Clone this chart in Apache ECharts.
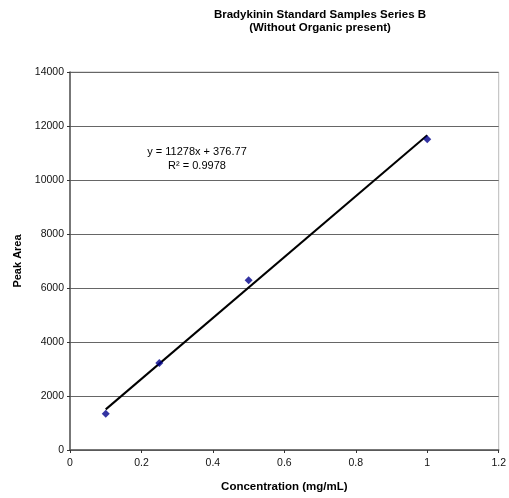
<!DOCTYPE html>
<html><head><meta charset="utf-8">
<script src="https://cdn.jsdelivr.net/npm/echarts@6/dist/echarts.min.js"></script>
<style>html,body{margin:0;padding:0;background:#fff;overflow:hidden}#c{width:509px;height:498px}</style>
</head><body><div id="c"></div>
<script>
const concentration = [0.1, 0.25, 0.5, 1.0];
const peakArea = [1340, 3220, 6290, 11510];
const trendX = [0.1, 1.0];
const trendY = [1504.57, 11654.77];
const xTicks = [0, 0.2, 0.4, 0.6, 0.8, 1, 1.2];
const yTicks = [0, 2000, 4000, 6000, 8000, 10000, 12000, 14000];
const F = '"Liberation Sans", Arial, sans-serif';
const chart = echarts.init(document.getElementById('c'), null, {renderer:'canvas'});
chart.setOption({
  animation:false,
  backgroundColor:'#fff',
  graphic:[
    {type:'text', style:{text:'Bradykinin Standard Samples Series B', x:320, y:15, textAlign:'center', textVerticalAlign:'middle', font:'bold 11.5px '+F, fill:'#000'}},
    {type:'text', style:{text:'(Without Organic present)', x:320, y:28, textAlign:'center', textVerticalAlign:'middle', font:'bold 11.5px '+F, fill:'#000'}},
    {type:'text', style:{text:'y = 11278x + 376.77', x:197, y:152, textAlign:'center', textVerticalAlign:'middle', font:'11px '+F, fill:'#000'}},
    {type:'text', style:{text:'R² = 0.9978', x:197, y:166, textAlign:'center', textVerticalAlign:'middle', font:'11px '+F, fill:'#000'}}
  ],
  grid:{left:70, right:7, top:72, bottom:44, show:true, borderColor:'#bbb', borderWidth:1},
  xAxis:{type:'value', min:xTicks[0], max:xTicks[xTicks.length-1], interval:0.2,
    name:'Concentration (mg/mL)', nameLocation:'middle', nameGap:31,
    nameTextStyle:{fontFamily:F, fontSize:11.5, fontWeight:'bold', color:'#000'},
    axisLine:{lineStyle:{color:'#555', width:1.5}},
    axisTick:{show:true, inside:false, length:3, lineStyle:{color:'#333'}},
    axisLabel:{fontFamily:F, fontSize:10.5, color:'#111', margin:8, formatter:v=>String(+v.toFixed(1))},
    splitLine:{show:false}},
  yAxis:{type:'value', min:yTicks[0], max:yTicks[yTicks.length-1], interval:2000,
    name:'Peak Area', nameLocation:'middle', nameGap:46,
    nameTextStyle:{fontFamily:F, fontSize:11, fontWeight:'bold', color:'#000'},
    axisLine:{show:true, lineStyle:{color:'#555', width:1.5}},
    axisTick:{show:true, length:3, lineStyle:{color:'#333'}},
    axisLabel:{fontFamily:F, fontSize:10.5, color:'#111', margin:6, formatter:v=>String(v)},
    splitLine:{show:true, lineStyle:{color:'#666', width:1}}},
  series:[
    {type:'line', data:trendX.map((x,i)=>[x,trendY[i]]), showSymbol:false, symbol:'none',
      lineStyle:{color:'#000', width:2}, z:2, silent:true},
    {type:'scatter', data:concentration.map((x,i)=>[x,peakArea[i]]), symbol:'diamond', symbolSize:8,
      itemStyle:{color:'#00008B'}, z:3}
  ]
});
</script></body></html>
